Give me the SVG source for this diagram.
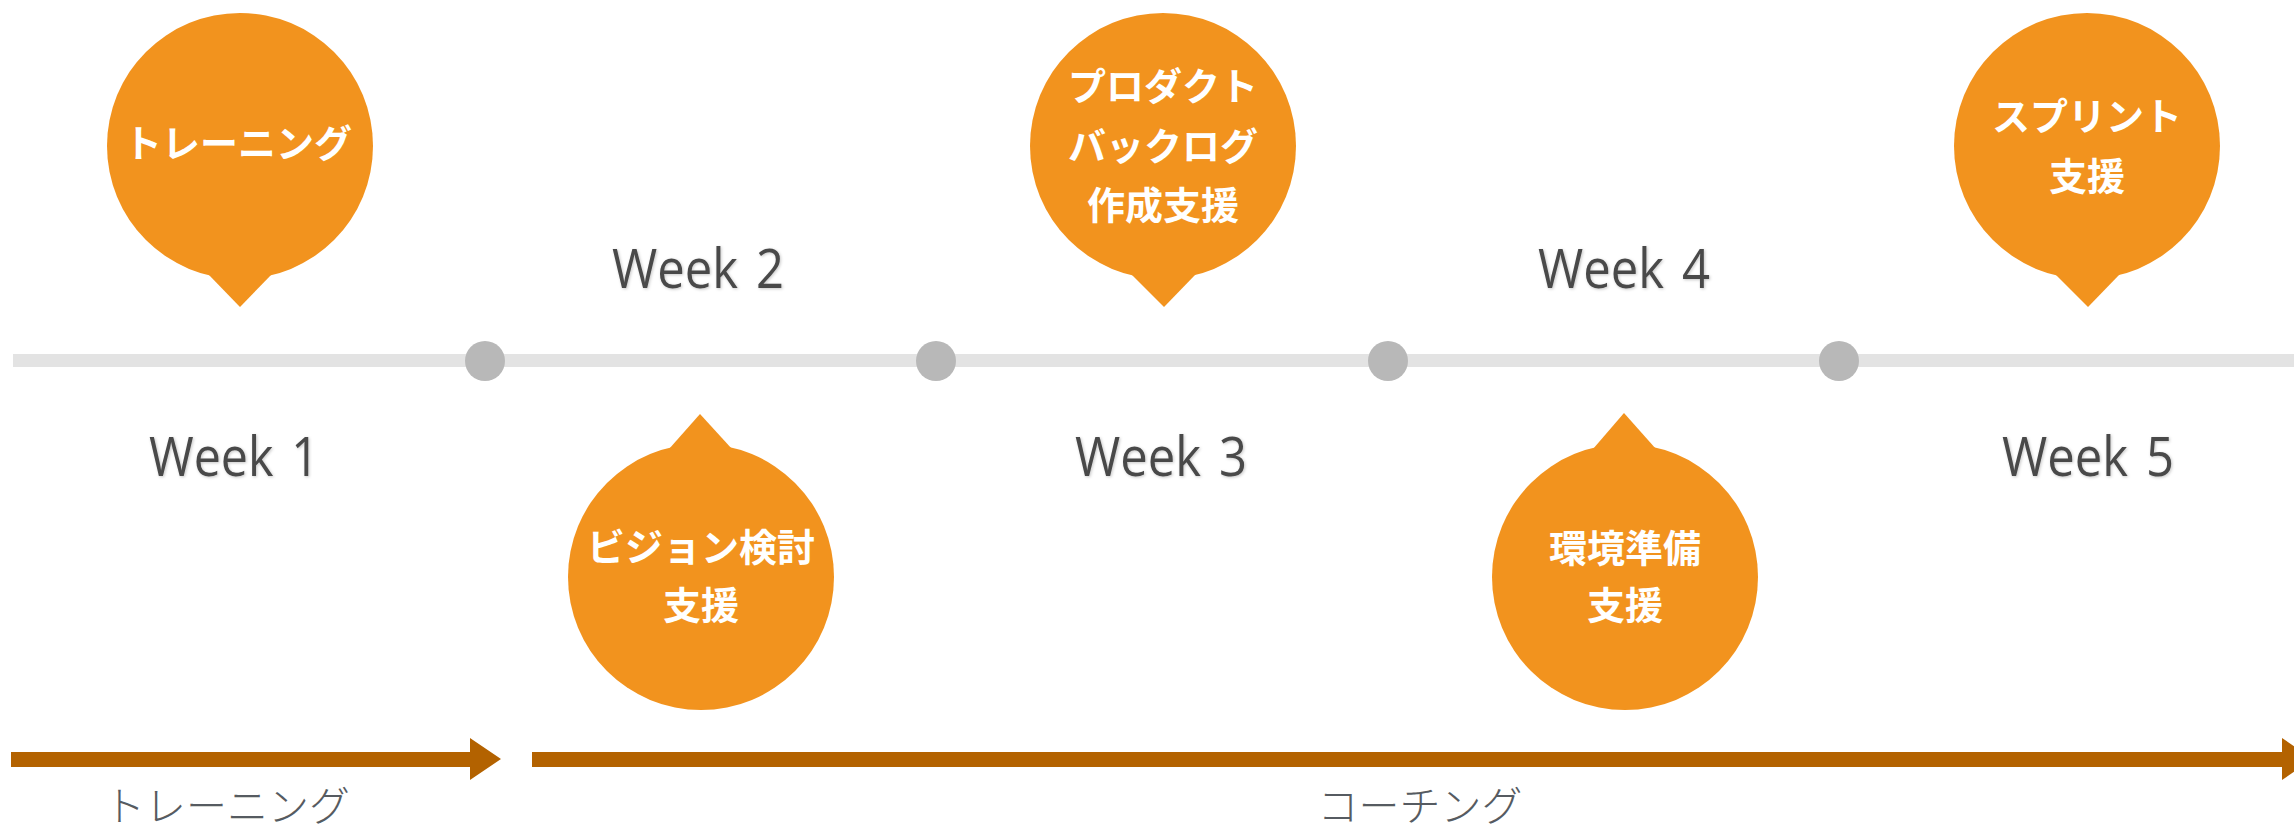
<svg xmlns="http://www.w3.org/2000/svg" width="2294" height="831" viewBox="0 0 2294 831">
<defs>
<style>
.bub{fill:#F2931E}
.bt{font-family:"Noto Sans CJK JP","Noto Sans CJK SC",sans-serif;font-weight:700;font-size:38px;fill:#fff;text-anchor:middle}
.wk{font-family:"Open Sans","Noto Sans",sans-serif;font-weight:400;font-size:55px;word-spacing:6px;fill:#4a4a4a;text-anchor:middle;filter:url(#sh)}
.dot{fill:#B8B8B8}
.arr{fill:#B36200}
.lb{font-family:"Noto Sans CJK JP","Noto Sans CJK SC",sans-serif;font-weight:300;font-size:41px;fill:#565b61;text-anchor:middle}
</style>
<filter id="sh" x="-10%" y="-20%" width="120%" height="140%">
<feDropShadow dx="1" dy="1" stdDeviation="1.5" flood-color="#000" flood-opacity="0.22"/>
</filter>
</defs>
<rect width="2294" height="831" fill="#fff"/>

<g id="connectors">
<rect x="13" y="354" width="2281" height="13" fill="#E3E3E3"/>
<polygon class="arr" points="11,752 470,752 470,738 501,759 470,780 470,767 11,767"/>
<polygon class="arr" points="532,752 2282,752 2282,738 2313,759 2282,780 2282,767 532,767"/>
</g>

<g id="dots">
<circle class="dot" cx="485" cy="361" r="20"/>
<circle class="dot" cx="936" cy="361" r="20"/>
<circle class="dot" cx="1388" cy="361" r="20"/>
<circle class="dot" cx="1839" cy="361" r="20"/>
</g>

<g id="weeks">
<text class="wk" x="234" y="476" textLength="170" lengthAdjust="spacingAndGlyphs">Week 1</text>
<text class="wk" x="698" y="288" textLength="172" lengthAdjust="spacingAndGlyphs">Week 2</text>
<text class="wk" x="1161" y="476" textLength="172" lengthAdjust="spacingAndGlyphs">Week 3</text>
<text class="wk" x="1624" y="288" textLength="172" lengthAdjust="spacingAndGlyphs">Week 4</text>
<text class="wk" x="2088" y="476" textLength="172" lengthAdjust="spacingAndGlyphs">Week 5</text>
</g>

<g id="bubble1">
<circle class="bub" cx="240" cy="146" r="133"/>
<polygon class="bub" points="208,274 240,307 272,274"/>
<text class="bt" x="238" y="157">トレーニング</text>
</g>

<g id="bubble2">
<circle class="bub" cx="701" cy="577" r="133"/>
<polygon class="bub" points="669,449 700,414 732,449"/>
<text class="bt" x="701" y="561">ビジョン検討</text>
<text class="bt" x="701" y="619">支援</text>
</g>

<g id="bubble3">
<circle class="bub" cx="1163" cy="146" r="133"/>
<polygon class="bub" points="1131,274 1164,307 1196,274"/>
<text class="bt" x="1163" y="100">プロダクト</text>
<text class="bt" x="1163" y="160">バックログ</text>
<text class="bt" x="1163" y="219">作成支援</text>
</g>

<g id="bubble4">
<circle class="bub" cx="1625" cy="577" r="133"/>
<polygon class="bub" points="1593,449 1624,413 1656,449"/>
<text class="bt" x="1625" y="562">環境準備</text>
<text class="bt" x="1625" y="619">支援</text>
</g>

<g id="bubble5">
<circle class="bub" cx="2087" cy="146" r="133"/>
<polygon class="bub" points="2055,274 2088,307 2120,274"/>
<text class="bt" x="2087" y="130">スプリント</text>
<text class="bt" x="2087" y="190">支援</text>
</g>

<g id="labels">
<text class="lb" x="227" y="821">トレーニング</text>
<text class="lb" x="1420" y="821">コーチング</text>
</g>
</svg>
